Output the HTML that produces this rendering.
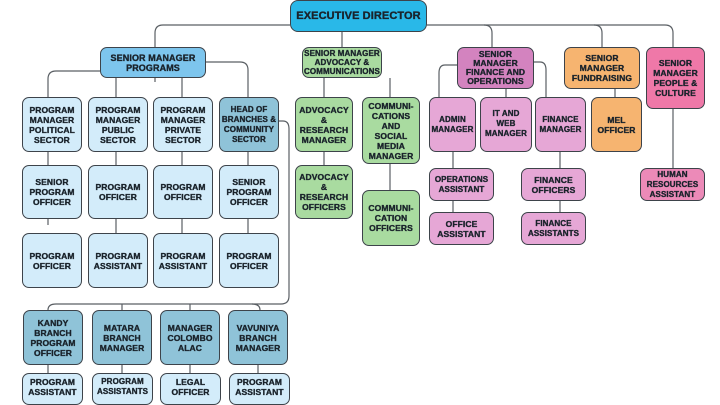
<!DOCTYPE html>
<html><head><meta charset="utf-8"><style>
body{margin:0;width:720px;height:400px;background:#fff;position:relative;overflow:hidden;font-family:"Liberation Sans",sans-serif}
.b{position:absolute;box-sizing:border-box;border:1.3px solid #3d434a;border-radius:7px;display:flex;align-items:center;justify-content:center;text-align:center;font-weight:bold;font-size:8.5px;line-height:10px;color:#1a232b;-webkit-text-stroke:0.35px #1a232b;letter-spacing:0.1px;white-space:nowrap}
.lb{background:#d3ecfa}.hb{background:#8fc3d8}.g{background:#a9dba0}.p{background:#e6a7d6}.pd{background:#d383bf}.o{background:#f6b470}.r{background:#ef78a8}.rl{background:#ec8ab8}
svg{position:absolute;left:0;top:0}
</style></head><body>
<svg width="720" height="400" fill="none" stroke="#5a5f64" stroke-width="1.2">
<path d="M290 25 H163 Q155 25 155 33 V47"/>
<path d="M427 25 H665 Q673 25 673 33 V47"/>
<path d="M484 25 Q492 25 492 33 V47"/>
<path d="M594 25 Q602 25 602 33 V47"/>
<path d="M342 32 V47"/>
<path d="M100 71 H56 Q48 71 48 79 V97"/>
<path d="M206 62 H240 Q248 62 248 70 V97"/>
<path d="M116 78 V97 M182 78 V97 M155 78 V82"/>
<path d="M48 152 V165 M116 152 V165 M182 152 V165 M248 152 V165"/>
<path d="M48 219 V225 M116 219 V233 M182 219 V233 M248 219 V233"/>
<path d="M279 121 H283 Q289 121 289 129 V296 Q289 304 281 304 H56 Q48 304 48 310"/>
<path d="M122 304 V310 M190 304 V310 M252 304 Q260 304 260 310"/>
<path d="M48 365 V373 M122 365 V373 M190 365 V373 M258 365 V373"/>
<path d="M324 78 V97 M390 78 V97 M324 152 V165 M390 164 V190"/>
<path d="M457 65 H445 Q439 65 439 73 V97 M534 62 H540 Q546 62 546 70 V97 M506 88 V97"/>
<path d="M453 152 V168 M453 201 V212 M560 152 V168 M560 201 V212"/>
<path d="M615 89 V97 M673 109 V168"/>
</svg>
<div class="b" style="left:290px;top:0;width:137px;height:32px;background:#29b8e8;font-size:11px;border-radius:8px">EXECUTIVE DIRECTOR</div>
<div class="b" style="left:100px;top:47px;width:106px;height:31px;background:#7dc5ed;font-size:9px">SENIOR MANAGER<br>PROGRAMS</div>
<div class="b lb" style="left:22px;top:97px;width:60px;height:55px">PROGRAM<br>MANAGER<br>POLITICAL<br>SECTOR</div>
<div class="b lb" style="left:88px;top:97px;width:60px;height:55px">PROGRAM<br>MANAGER<br>PUBLIC<br>SECTOR</div>
<div class="b lb" style="left:153px;top:97px;width:60px;height:55px">PROGRAM<br>MANAGER<br>PRIVATE<br>SECTOR</div>
<div class="b hb" style="left:219px;top:97px;width:60px;height:55px;font-size:8px">HEAD OF<br>BRANCHES &amp;<br>COMMUNITY<br>SECTOR</div>
<div class="b lb" style="left:22px;top:165px;width:60px;height:54px">SENIOR<br>PROGRAM<br>OFFICER</div>
<div class="b lb" style="left:88px;top:165px;width:60px;height:54px">PROGRAM<br>OFFICER</div>
<div class="b lb" style="left:153px;top:165px;width:60px;height:54px">PROGRAM<br>OFFICER</div>
<div class="b lb" style="left:219px;top:165px;width:60px;height:54px">SENIOR<br>PROGRAM<br>OFFICER</div>
<div class="b lb" style="left:22px;top:233px;width:60px;height:55px">PROGRAM<br>OFFICER</div>
<div class="b lb" style="left:88px;top:233px;width:60px;height:55px">PROGRAM<br>ASSISTANT</div>
<div class="b lb" style="left:153px;top:233px;width:60px;height:55px">PROGRAM<br>ASSISTANT</div>
<div class="b lb" style="left:219px;top:233px;width:60px;height:55px">PROGRAM<br>OFFICER</div>
<div class="b hb" style="left:23px;top:310px;width:60px;height:55px">KANDY<br>BRANCH<br>PROGRAM<br>OFFICER</div>
<div class="b hb" style="left:92px;top:310px;width:60px;height:55px">MATARA<br>BRANCH<br>MANAGER</div>
<div class="b hb" style="left:160px;top:310px;width:60px;height:55px">MANAGER<br>COLOMBO<br>ALAC</div>
<div class="b hb" style="left:228px;top:310px;width:60px;height:55px">VAVUNIYA<br>BRANCH<br>MANAGER</div>
<div class="b lb" style="left:22px;top:373px;width:61px;height:32px;align-items:flex-start;padding-top:3px">PROGRAM<br>ASSISTANT</div>
<div class="b lb" style="left:92px;top:373px;width:61px;height:32px;align-items:flex-start;padding-top:3px;font-size:8px">PROGRAM<br>ASSISTANTS</div>
<div class="b lb" style="left:160px;top:373px;width:61px;height:32px;align-items:flex-start;padding-top:3px">LEGAL<br>OFFICER</div>
<div class="b lb" style="left:229px;top:373px;width:61px;height:32px;align-items:flex-start;padding-top:3px">PROGRAM<br>ASSISTANT</div>
<div class="b g" style="left:302px;top:47px;width:80px;height:31px;font-size:8px;line-height:9px">SENIOR MANAGER<br>ADVOCACY &amp;<br>COMMUNICATIONS</div>
<div class="b g" style="left:295px;top:97px;width:58px;height:55px">ADVOCACY<br>&amp;<br>RESEARCH<br>MANAGER</div>
<div class="b g" style="left:295px;top:165px;width:58px;height:54px">ADVOCACY<br>&amp;<br>RESEARCH<br>OFFICERS</div>
<div class="b g" style="left:362px;top:97px;width:58px;height:67px">COMMUNI-<br>CATIONS<br>AND<br>SOCIAL<br>MEDIA<br>MANAGER</div>
<div class="b g" style="left:362px;top:190px;width:58px;height:56px">COMMUNI-<br>CATION<br>OFFICERS</div>
<div class="b pd" style="left:457px;top:47px;width:77px;height:42px;font-size:8.5px;line-height:9px">SENIOR<br>MANAGER<br>FINANCE AND<br>OPERATIONS</div>
<div class="b p" style="left:429px;top:97px;width:47px;height:55px;font-size:8px">ADMIN<br>MANAGER</div>
<div class="b p" style="left:480px;top:97px;width:52px;height:55px;align-items:flex-start;padding-top:11px;font-size:8px">IT AND<br>WEB<br>MANAGER</div>
<div class="b p" style="left:535px;top:97px;width:51px;height:55px;font-size:8px">FINANCE<br>MANAGER</div>
<div class="b p" style="left:429px;top:168px;width:65px;height:33px;font-size:8px">OPERATIONS<br>ASSISTANT</div>
<div class="b p" style="left:429px;top:212px;width:65px;height:33px">OFFICE<br>ASSISTANT</div>
<div class="b p" style="left:521px;top:168px;width:65px;height:33px">FINANCE<br>OFFICERS</div>
<div class="b p" style="left:521px;top:212px;width:65px;height:33px;font-size:8px">FINANCE<br>ASSISTANTS</div>
<div class="b o" style="left:564px;top:47px;width:76px;height:42px;font-size:8.5px">SENIOR<br>MANAGER<br>FUNDRAISING</div>
<div class="b o" style="left:591px;top:97px;width:51px;height:55px">MEL<br>OFFICER</div>
<div class="b r" style="left:646px;top:47px;width:59px;height:62px;font-size:8.5px">SENIOR<br>MANAGER<br>PEOPLE &amp;<br>CULTURE</div>
<div class="b rl" style="left:640px;top:168px;width:65px;height:33px;font-size:8px">HUMAN<br>RESOURCES<br>ASSISTANT</div>
</body></html>
